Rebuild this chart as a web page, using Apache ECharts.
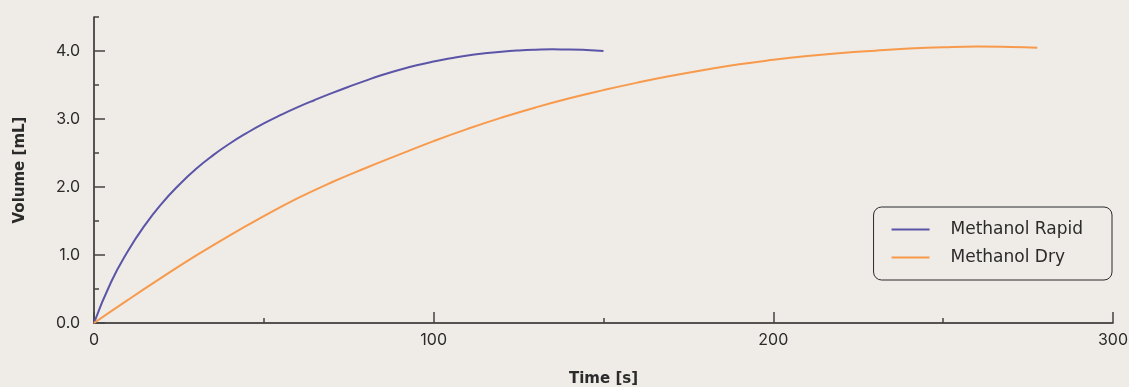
<!DOCTYPE html>
<html>
<head>
<meta charset="utf-8">
<script src="https://cdn.jsdelivr.net/npm/echarts@6/dist/echarts.min.js"></script>
<style>
    html, body { margin: 0; padding: 0; background: #efebe7; }
    #chart { width: 1129px; height: 387px; }
</style>
</head>
<body>
<div id="chart"></div>
<script>
const seriesNames = ['Methanol Rapid', 'Methanol Dry'];
const rapidTime   = [0, 5, 10, 15, 20, 25, 30, 35, 40, 45, 50, 55, 60, 65, 70, 75, 80, 85, 90, 95, 100, 105, 110, 115, 120, 125, 130, 135, 140, 145, 150];
const rapidVolume = [0, 0.6, 1.06, 1.44, 1.76, 2.03, 2.265, 2.465, 2.64, 2.795, 2.935, 3.06, 3.175, 3.28, 3.38, 3.475, 3.565, 3.65, 3.725, 3.79, 3.845, 3.893, 3.935, 3.966, 3.99, 4.007, 4.018, 4.024, 4.023, 4.015, 4.0];
const dryTime     = [0, 10, 20, 30, 40, 50, 60, 70, 80, 90, 100, 110, 120, 130, 140, 150, 160, 170, 180, 190, 200, 210, 220, 230, 240, 250, 260, 270, 277.7];
const dryVolume   = [0, 0.34, 0.67, 0.99, 1.29, 1.57, 1.835, 2.07, 2.28, 2.48, 2.675, 2.855, 3.02, 3.17, 3.305, 3.425, 3.535, 3.635, 3.725, 3.805, 3.87, 3.925, 3.97, 4.005, 4.035, 4.055, 4.065, 4.058, 4.046];
const yTickLabels = [0, 1, 2, 3, 4];
const yMinorTicks = [0.5, 1.5, 2.5, 3.5, 4.5];

const colors = ['#5b55a8', '#f79a4c'];
const font = 'Inter, "Noto Sans", sans-serif';
const wideFont = '"DejaVu Sans", sans-serif';

const pairs = (xs, ys) => xs.map((x, i) => [x, ys[i]]);

const chart = echarts.init(document.getElementById('chart'));

const option = {
    backgroundColor: '#efebe7',
    animation: false,
    textStyle: { fontFamily: font },
    grid: {
        left: 94,
        right: 16,
        top: 17,
        bottom: 64,
        outerBoundsMode: 'none'
    },
    legend: {
        orient: 'vertical',
        right: 17,
        top: 207,
        padding: [14, 29, 14, 17],
        itemGap: 11,
        itemWidth: 38,
        itemHeight: 14,
        borderColor: '#2b2b2b',
        borderWidth: 1,
        borderRadius: 8,
        itemStyle: { opacity: 0 },
        lineStyle: { width: 2 },
        textStyle: {
            color: '#2b2b2b',
            fontFamily: wideFont,
            fontSize: 17,
            padding: [0, 0, 0, 16]
        },
        data: seriesNames
    },
    xAxis: {
        type: 'value',
        min: 0,
        max: 300,
        interval: 100,
        name: 'Time [s]',
        nameLocation: 'middle',
        nameGap: 49,
        nameTextStyle: { color: '#2b2b2b', fontFamily: wideFont, fontSize: 15, fontWeight: 'bold' },
        axisLine: { lineStyle: { color: '#222', width: 1.5 } },
        axisTick: { inside: true, length: 11, lineStyle: { color: '#444', width: 1.5 } },
        minorTick: { show: true, splitNumber: 2, length: 5, lineStyle: { color: '#444', width: 1.5 } },
        axisLabel: { color: '#2b2b2b', fontSize: 16, margin: 9 },
        splitLine: { show: false }
    },
    yAxis: [
        {
            type: 'value',
            position: 'left',
            min: 0,
            max: 4.5,
            interval: 0.5,
            name: 'Volume [mL]',
            nameLocation: 'middle',
            nameGap: 66,
            nameTextStyle: { color: '#2b2b2b', fontFamily: wideFont, fontSize: 15, fontWeight: 'bold' },
            axisLine: { show: true, lineStyle: { color: '#222', width: 1.5 } },
            axisTick: { inside: true, length: 11, customValues: yTickLabels, lineStyle: { color: '#444', width: 1.5 } },
            axisLabel: {
                color: '#2b2b2b',
                fontSize: 16,
                margin: 14,
                customValues: yTickLabels,
                formatter: v => v.toFixed(1)
            },
            splitLine: { show: false }
        },
        {
            type: 'value',
            position: 'left',
            min: 0,
            max: 4.5,
            interval: 0.5,
            axisLine: { show: false },
            axisTick: { show: true, inside: true, length: 5, customValues: yMinorTicks, lineStyle: { color: '#444', width: 1.5 } },
            axisLabel: { show: false },
            splitLine: { show: false }
        }
    ],
    series: [
        {
            name: seriesNames[0],
            type: 'line',
            yAxisIndex: 0,
            data: pairs(rapidTime, rapidVolume),
            smooth: 0.5,
            symbol: 'none',
            color: colors[0],
            lineStyle: { width: 2, color: colors[0] }
        },
        {
            name: seriesNames[1],
            type: 'line',
            yAxisIndex: 0,
            data: pairs(dryTime, dryVolume),
            smooth: 0.5,
            symbol: 'none',
            color: colors[1],
            lineStyle: { width: 2, color: colors[1] }
        }
    ]
};

chart.setOption(option);
</script>
</body>
</html>
